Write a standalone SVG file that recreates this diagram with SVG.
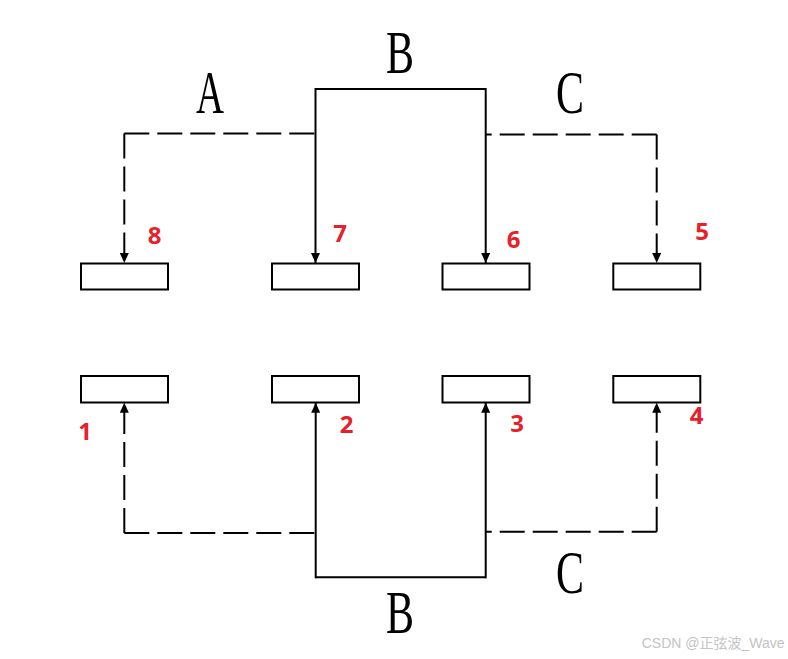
<svg xmlns="http://www.w3.org/2000/svg" width="788" height="659" viewBox="0 0 788 659">
<defs>
<marker id="arr" markerUnits="userSpaceOnUse" markerWidth="10" markerHeight="9" refX="10" refY="4.5" orient="auto" viewBox="0 0 10 9">
<path d="M0,0 L10,4.5 L0,9 Z" fill="#000"/>
</marker>
</defs>
<style>
.box{fill:#fff;stroke:#000;stroke-width:2}
.solid{fill:none;stroke:#000;stroke-width:2}
.dash{fill:none;stroke:#000;stroke-width:2;stroke-dasharray:25 8}
.big{font-family:"Liberation Serif",serif;font-size:62px;fill:#000}
.num{font-family:"Open Sans","Liberation Sans",sans-serif;font-weight:bold;font-size:24px;fill:#e8202a;text-anchor:middle}
.wm{font-family:"Liberation Sans","Noto Sans CJK SC",sans-serif;font-size:14px;fill:#c4c4c4}
</style>
<rect width="788" height="659" fill="#fff"/>
<g id="connectors">
<path class="solid" d="M315.5,89 H485.7"/>
<path class="solid" d="M315.5,88 V263" marker-end="url(#arr)"/>
<path class="solid" d="M485.7,88 V263" marker-end="url(#arr)"/>
<path class="dash" d="M124.3,133.5 H315.5"/>
<path class="dash" d="M124.3,133.5 V263" marker-end="url(#arr)"/>
<path class="dash" d="M656.7,134.5 H485.7"/>
<path class="dash" d="M656.7,134.5 V263" marker-end="url(#arr)"/>
<path class="solid" d="M315.7,577.3 H485.7"/>
<path class="solid" d="M315.7,578.3 V402.7" marker-end="url(#arr)"/>
<path class="solid" d="M485.7,578.3 V402.7" marker-end="url(#arr)"/>
<path class="dash" d="M124.3,533 H315.7"/>
<path class="dash" d="M124.3,533 V402.7" marker-end="url(#arr)"/>
<path class="dash" d="M656.7,531.7 H485.7"/>
<path class="dash" d="M656.7,531.7 V402.7" marker-end="url(#arr)"/>
</g>
<g id="box8"><rect class="box" x="81" y="263.5" width="87" height="26"/><text class="num" x="154.5" y="244">8</text></g>
<g id="box7"><rect class="box" x="272" y="263.5" width="87" height="26"/><text class="num" x="340" y="241.7">7</text></g>
<g id="box6"><rect class="box" x="442.5" y="263.5" width="87" height="26"/><text class="num" x="513.7" y="248.3">6</text></g>
<g id="box5"><rect class="box" x="613.3" y="263.5" width="87" height="26"/><text class="num" x="702" y="240">5</text></g>
<g id="box1"><rect class="box" x="81" y="376" width="87" height="26.5"/><text class="num" x="85" y="440">1</text></g>
<g id="box2"><rect class="box" x="272" y="376" width="87" height="26.5"/><text class="num" x="346.7" y="433.3">2</text></g>
<g id="box3"><rect class="box" x="442.5" y="376" width="87" height="26.5"/><text class="num" x="517" y="431.7">3</text></g>
<g id="box4"><rect class="box" x="613.3" y="376" width="87" height="26.5"/><text class="num" x="696.5" y="424">4</text></g>
<g id="labels">
<text class="big" x="196" y="113" textLength="28" lengthAdjust="spacingAndGlyphs">A</text>
<text class="big" x="386" y="73" textLength="28" lengthAdjust="spacingAndGlyphs">B</text>
<text class="big" x="556" y="112.5" textLength="28" lengthAdjust="spacingAndGlyphs">C</text>
<text class="big" x="386" y="633" textLength="28" lengthAdjust="spacingAndGlyphs">B</text>
<text class="big" x="556" y="592.5" textLength="28" lengthAdjust="spacingAndGlyphs">C</text>
</g>
<text class="wm" x="641.7" y="648">CSDN @正弦波_Wave</text>
</svg>
